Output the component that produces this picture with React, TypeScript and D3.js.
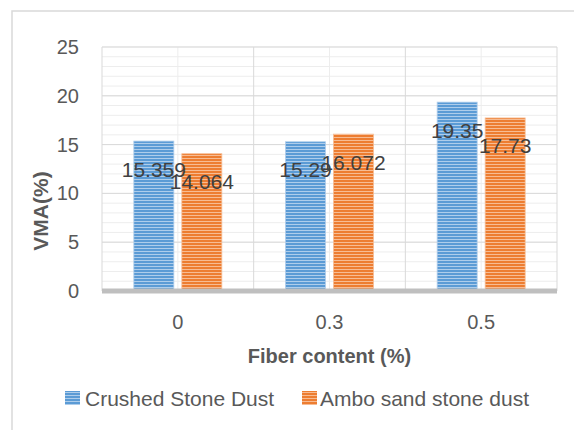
import React from "react";
import * as d3 from "d3";

const categories = ["0", "0.3", "0.5"];
const seriesNames = ["Crushed Stone Dust", "Ambo sand stone dust"];
const crushedStoneDust = [15.359, 15.29, 19.35];
const amboSandStoneDust = [14.064, 16.072, 17.73];
const yTicks = [0, 5, 10, 15, 20, 25];
const minorTicks = d3.range(0, 26, 1);

const W = 574;
const H = 430;
const plotL = 102;
const plotR = 557;
const plotT = 47;
const plotB = 291;
const FONT = "'Liberation Sans', Arial, sans-serif";

const colors = [
  { dark: "#5B9BD5", light: "#AECDEB" },
  { dark: "#ED7D31", light: "#F7BC93" },
];

export default function App() {
  const y = d3.scaleLinear().domain([0, 25]).range([plotB, plotT]);
  const x0 = d3.scaleBand<string>().domain(categories).range([plotL, plotR]).padding(0);
  const bw = x0.bandwidth();
  const x1 = d3
    .scaleBand<string>()
    .domain(seriesNames)
    .range([bw / 2 - 44, bw / 2 + 44])
    .paddingInner(1 / 6)
    .paddingOuter(0);
  const values = [crushedStoneDust, amboSandStoneDust];

  const vBoundaries = [...categories.map((c) => x0(c)!), plotR];
  const vCenters = categories.map((c) => x0(c)! + bw / 2);

  return (
    <svg
      width={W}
      height={H}
      style={{ position: "absolute", left: 0, top: 0, background: "#fff" }}
      fontFamily={FONT}
    >
      <defs>
        {colors.map((c, i) => (
          <pattern key={i} id={`stripe${i}`} width={4} height={3} patternUnits="userSpaceOnUse">
            <rect width={4} height={3} fill={c.light} />
            <rect width={4} height={2} fill={c.dark} />
          </pattern>
        ))}
      </defs>
      <rect x={0} y={0} width={W} height={H} fill="#fff" />
      <rect x={12} y={11} width={700} height={600} fill="none" stroke="#D9D9D9" strokeWidth={1.5} />

      {/* minor horizontal gridlines */}
      {minorTicks.map((t) => (
        <line key={"m" + t} x1={plotL} x2={plotR} y1={y(t)} y2={y(t)} stroke="#EDEDED" strokeWidth={1} />
      ))}
      {/* vertical minor gridlines */}
      {vCenters.map((cx, i) => (
        <line key={"vc" + i} x1={cx} x2={cx} y1={plotT} y2={plotB} stroke="#EDEDED" strokeWidth={1} />
      ))}
      {/* major horizontal gridlines */}
      {yTicks.map((t) => (
        <line key={"M" + t} x1={plotL} x2={plotR} y1={y(t)} y2={y(t)} stroke="#D9D9D9" strokeWidth={1} />
      ))}
      {vBoundaries.map((bx, i) => (
        <line key={"vb" + i} x1={bx} x2={bx} y1={plotT} y2={plotB} stroke="#D9D9D9" strokeWidth={1} />
      ))}

      {/* bars */}
      {categories.map((c, ci) =>
        seriesNames.map((s, si) => {
          const v = values[si][ci];
          const bx = x0(c)! + x1(s)!;
          return (
            <rect
              key={c + s}
              x={bx}
              y={y(v)}
              width={x1.bandwidth()}
              height={y(0) - y(v)}
              fill={`url(#stripe${si})`}
              stroke={colors[si].light}
              strokeWidth={0.8}
            />
          );
        })
      )}

      {/* baseline */}
      <line x1={plotL} x2={plotR} y1={y(0)} y2={y(0)} stroke="#BFBFBF" strokeWidth={5} />

      {/* data labels */}
      {seriesNames.map((s, si) =>
        categories.map((c, ci) => {
          const v = values[si][ci];
          const cx = x0(c)! + x1(s)! + x1.bandwidth() / 2;
          return (
            <text
              key={"l" + c + s}
              x={cx}
              y={y(v) + 28}
              textAnchor="middle"
              dominantBaseline="central"
              fontSize={21}
              fill="#404040"
            >
              {String(v)}
            </text>
          );
        })
      )}

      {/* y tick labels */}
      {yTicks.map((t) => (
        <text
          key={"yt" + t}
          x={79}
          y={y(t)}
          textAnchor="end"
          dominantBaseline="central"
          fontSize={20}
          fill="#595959"
        >
          {t}
        </text>
      ))}

      {/* x tick labels */}
      {categories.map((c) => (
        <text
          key={"xt" + c}
          x={x0(c)! + bw / 2}
          y={322}
          textAnchor="middle"
          dominantBaseline="central"
          fontSize={20}
          fill="#595959"
        >
          {c}
        </text>
      ))}

      {/* axis titles */}
      <text
        x={(plotL + plotR) / 2}
        y={356}
        textAnchor="middle"
        dominantBaseline="central"
        fontSize={20}
        fontWeight="bold"
        fill="#595959"
      >
        Fiber content (%)
      </text>
      <text
        transform={`translate(40,211) rotate(-90)`}
        textAnchor="middle"
        dominantBaseline="central"
        fontSize={21}
        fontWeight="bold"
        fill="#595959"
      >
        VMA(%)
      </text>

      {/* legend */}
      <rect x={65} y={391} width={15} height={14} fill="url(#stripe0)" />
      <text x={85} y={398} dominantBaseline="central" fontSize={21} fill="#595959">
        {seriesNames[0]}
      </text>
      <rect x={302} y={391} width={15} height={14} fill="url(#stripe1)" />
      <text x={320} y={398} dominantBaseline="central" fontSize={21} fill="#595959">
        {seriesNames[1]}
      </text>
    </svg>
  );
}
